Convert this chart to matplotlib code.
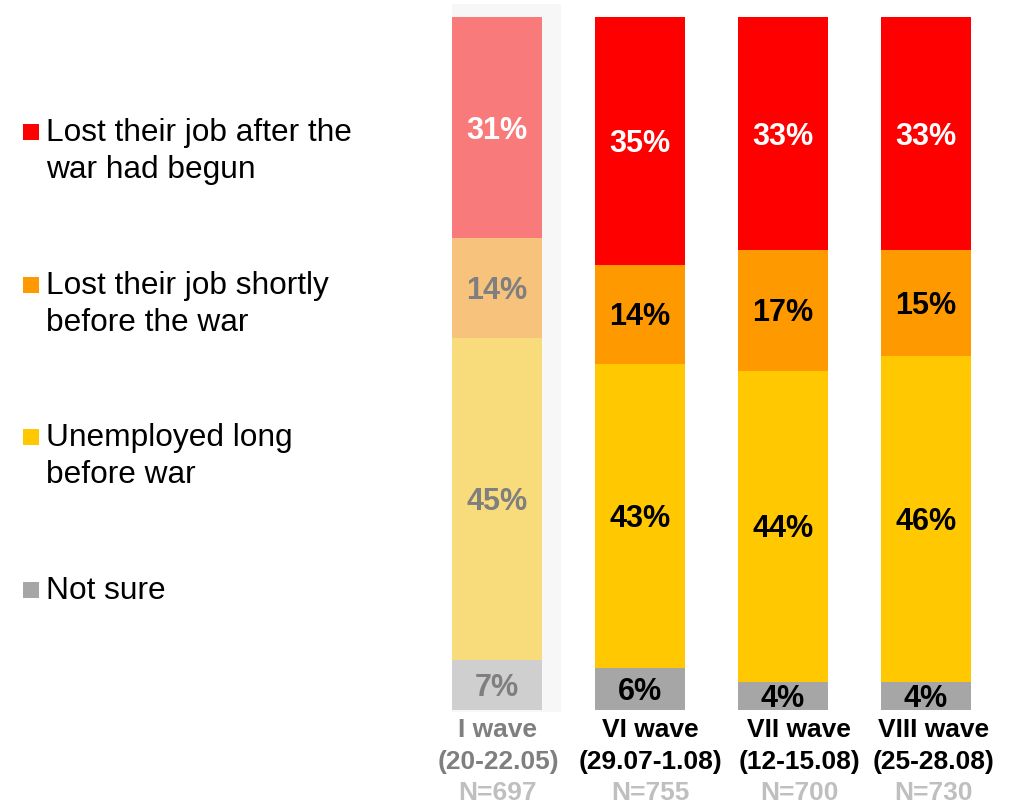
import matplotlib
matplotlib.use("Agg")
import matplotlib.pyplot as plt
import numpy as np
from matplotlib.patches import Rectangle

plt.rcParams['font.family'] = ['Liberation Sans', 'DejaVu Sans']

# Survey waves
waves = ["I wave", "VI wave", "VII wave", "VIII wave"]
periods = ["(20-22.05)", "(29.07-1.08)", "(12-15.08)", "(25-28.08)"]
sample_sizes = ["N=697", "N=755", "N=700", "N=730"]

# Categories (legend order, top of the stack first)
categories = [
    "Lost their job after the\nwar had begun",
    "Lost their job shortly\nbefore the war",
    "Unemployed long\nbefore war",
    "Not sure",
]

# Shares per wave, %
lost_after = [31, 35, 33, 33]
lost_shortly_before = [14, 14, 17, 15]
unemployed_long = [45, 43, 44, 46]
not_sure = [7, 6, 4, 4]

colors = ["#ff0000", "#ff9900", "#ffc800", "#a6a6a6"]
faded_colors = ["#f87a7a", "#f7c27c", "#f8dc7c", "#cfcfcf"]

W, H = 1025, 806
fig = plt.figure(figsize=(W / 100, H / 100), dpi=100)
ax = fig.add_axes([425.5 / W, 96 / H, 572 / W, 693 / H])

x = np.arange(len(waves))
# bottom-to-top stacking order
stack = [not_sure, unemployed_long, lost_shortly_before, lost_after]
stack_colors = colors[::-1]
stack_faded = faded_colors[::-1]
totals = np.sum(np.array(stack, dtype=float), axis=0)

# light band behind the first wave
ax.add_patch(Rectangle((-0.315, -0.3), 0.763, 102.2, facecolor="#f7f7f7",
                       edgecolor="none", zorder=0, clip_on=False))

bar_w = 0.629
bottom = np.zeros(len(waves))
for k, vals in enumerate(stack):
    vals = np.array(vals, dtype=float)
    heights = vals / totals * 100
    for i in range(len(waves)):
        c = stack_faded[k] if i == 0 else stack_colors[k]
        ax.bar(x[i], heights[i], bottom=bottom[i], width=bar_w, color=c,
               edgecolor="none", zorder=2)
        if k == 3:
            tc = "white"
        else:
            tc = "#7f7f7f" if i == 0 else "black"
        ax.annotate(f"{int(vals[i])}%", (x[i], bottom[i] + heights[i] / 2),
                    xytext=(0, -3), textcoords="offset pixels",
                    ha="center", va="center", fontsize=22, fontweight="bold",
                    color=tc, zorder=3)
    bottom += heights

ax.set_xlim(-0.5, 3.5)
ax.set_ylim(0, 100)
ax.axis("off")

# category labels under the bars (slight horizontal nudges per wave)
label_dx = [1, 10, 16, 8]
for i in range(len(waves)):
    main_c = "#7f7f7f" if i == 0 else "black"
    for txt, dy, c in ((waves[i], -20, main_c), (periods[i], -52, main_c),
                       (sample_sizes[i], -83, "#bfbfbf")):
        ax.annotate(txt, (x[i], 0), xytext=(label_dx[i], dy),
                    textcoords="offset pixels", ha="center", va="center",
                    fontsize=19, fontweight="bold", color=c,
                    annotation_clip=False)

# legend on the left
legend_y = [132, 285, 437, 590]
for label, c, yc in zip(categories, colors, legend_y):
    fig.patches.append(Rectangle((23 / W, (H - yc - 8) / H), 16 / W, 16 / H,
                                 transform=fig.transFigure, facecolor=c,
                                 edgecolor="none"))
    for j, line in enumerate(label.split("\n")):
        fig.text(46 / W, (H - (yc + 1 + j * 37)) / H, line, ha="left",
                 va="center", fontsize=22.8, color="black")

fig.savefig("out.png", dpi=100, facecolor="white")
